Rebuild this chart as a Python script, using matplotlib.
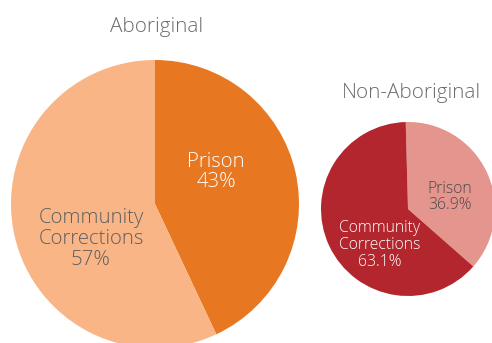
import matplotlib.pyplot as plt

# Data
groups = ['Aboriginal', 'Non-Aboriginal']
categories = ['Prison', 'Community\nCorrections']
aboriginal = [43, 57]
non_aboriginal = [36.9, 63.1]
value_fmt = ['{:.0f}%', '{:.1f}%']

# Style
colors = [['#E87722', '#F9B586'], ['#E4958D', '#B3262E']]
label_colors = [['white', '#5f5f5f'], ['#4a4a4a', 'white']]
title_color = '#6b6b6b'
plt.rcParams['font.family'] = ['Open Sans', 'DejaVu Sans']

W, H = 492, 343


def main():
    fig = plt.figure(figsize=(W / 100, H / 100), dpi=100)
    ax = fig.add_axes([0, 0, 1, 1])

    # pie layout: centre, radius, start angle, title pos, label positions, font size
    layout = [
        dict(center=(155, 139), r=144, start=90, title=(157, 316),
             lab=[(216, 171), (91, 104)], fs=14.7, tfs=14.9),
        dict(center=(408, 134), r=87, start=91.5, title=(411, 250),
             lab=[(450, 146), (380, 98)], fs=11.3, tfs=14.9),
    ]

    for i, vals in enumerate([aboriginal, non_aboriginal]):
        L = layout[i]
        ax.pie(vals, colors=colors[i], center=L['center'], radius=L['r'],
               startangle=L['start'], counterclock=False,
               wedgeprops=dict(linewidth=0), frame=True)
        ax.text(L['title'][0], L['title'][1], groups[i], ha='center',
                va='center', fontsize=L['tfs'], color=title_color,
                fontweight=300)
        for j, v in enumerate(vals):
            txt = categories[j] + '\n' + value_fmt[i].format(v)
            ax.text(L['lab'][j][0], L['lab'][j][1], txt, ha='center',
                    va='center', fontsize=L['fs'], color=label_colors[i][j],
                    linespacing=1.05, fontweight=300)

    ax.set_xlim(0, W)
    ax.set_ylim(0, H)
    ax.set_aspect('equal')
    ax.axis('off')
    fig.savefig('out.png', dpi=100)


if __name__ == "__main__":
    main()
